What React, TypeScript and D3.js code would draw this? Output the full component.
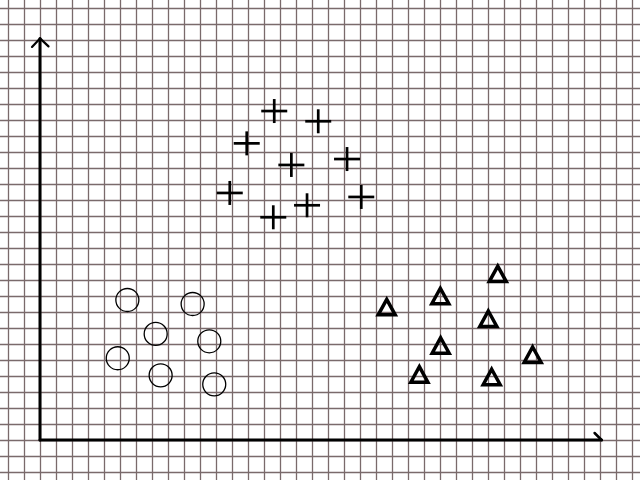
import * as d3 from 'd3';

// values in grid-cell units from the origin
const crossX = [14.64, 17.39, 12.92, 15.71, 19.19, 11.86, 20.08, 16.69, 14.58];
const crossY = [20.56, 19.92, 18.54, 17.19, 17.56, 15.44, 15.19, 14.67, 13.92];

const circleX = [5.46, 9.54, 7.23, 10.58, 4.86, 7.54, 10.89];
const circleY = [8.75, 8.5, 6.63, 6.17, 5.11, 4.04, 3.48];

const triX = [28.61, 25.02, 21.67, 28.02, 25.04, 30.79, 23.71, 28.23];
const triY = [10.31, 8.92, 8.23, 7.5, 5.83, 5.25, 4.02, 3.86];

const width = 640;
const height = 480;
const gridStep = 16;

export default function App() {
  const x = d3.scaleLinear().domain([0, 35]).range([40, 600]);
  const y = d3.scaleLinear().domain([0, 25]).range([440, 40]);

  const vLines = d3.range(8, width, gridStep);
  const hLines = d3.range(8, height, gridStep);

  const triPath = 'M0,-9 L8.5,6.5 L-8.5,6.5 Z';

  return (
    <svg
      width={width}
      height={height}
      style={{ position: 'absolute', left: 0, top: 0, background: '#fff' }}
    >
      <rect width={width} height={height} fill="#fff" />
      <g stroke="#7a6a6b" strokeWidth={1.3}>
        {vLines.map(v => (
          <line key={'v' + v} x1={v + 0.5} x2={v + 0.5} y1={0} y2={height} />
        ))}
        {hLines.map(h => (
          <line key={'h' + h} x1={0} x2={width} y1={h + 0.5} y2={h + 0.5} />
        ))}
      </g>

      {/* axes */}
      <g stroke="#000" fill="none" strokeLinecap="round" strokeLinejoin="round">
        <line x1={x(0)} y1={y(0)} x2={x(0)} y2={y(25.1)} strokeWidth={3} />
        <path d={`M${x(0) - 8},${y(25.1) + 8.5} L${x(0)},${y(25.1)} L${x(0) + 8.5},${y(25.1) + 8}`} strokeWidth={2.2} />
        <line x1={x(0)} y1={y(0)} x2={x(35.1)} y2={y(0)} strokeWidth={3} />
        <path d={`M${x(35.1) - 7},${y(0) - 7} L${x(35.1)},${y(0)}`} strokeWidth={2.5} />
      </g>

      {/* crosses */}
      <g stroke="#000" strokeWidth={2.7}>
        {crossX.map((cx, i) => (
          <g key={'c' + i} transform={`translate(${x(cx)},${y(crossY[i])})`}>
            <line x1={-13} x2={13} y1={0} y2={0} />
            <line x1={0} x2={0} y1={-12} y2={12} />
          </g>
        ))}
      </g>

      {/* circles */}
      <g stroke="#000" strokeWidth={1.3} fill="none">
        {circleX.map((cx, i) => (
          <circle key={'o' + i} cx={x(cx)} cy={y(circleY[i])} r={11.5} />
        ))}
      </g>

      {/* triangles */}
      <g stroke="#000" strokeWidth={3.5} fill="none" strokeLinejoin="miter">
        {triX.map((tx, i) => (
          <path key={'t' + i} d={triPath} transform={`translate(${x(tx)},${y(triY[i])})`} />
        ))}
      </g>
    </svg>
  );
}
